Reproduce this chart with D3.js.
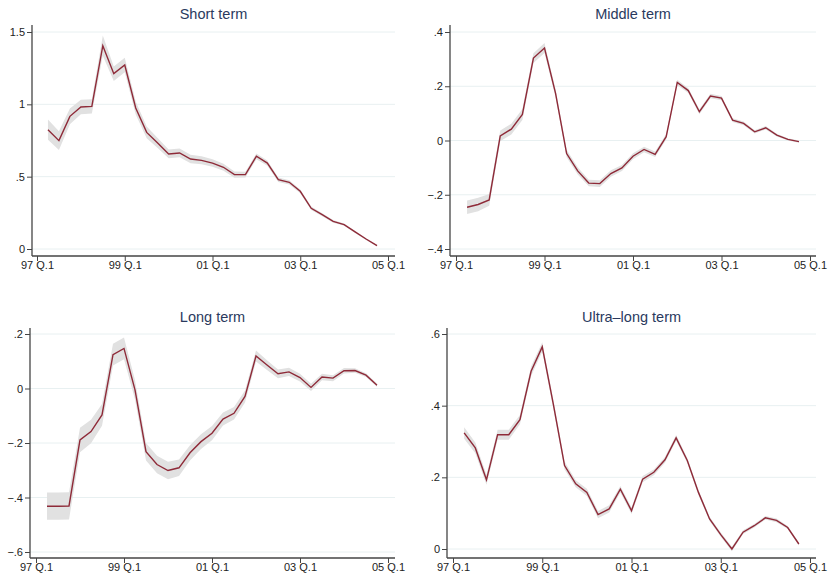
<!DOCTYPE html>
<html>
<head>
<meta charset="utf-8">
<script src="https://cdn.jsdelivr.net/npm/d3@7"></script>
<style>
  body { margin: 0; background: #fff; }
  svg { font-family: "Liberation Sans", Arial, sans-serif; }
  .tick text { fill: #222; font-size: 11px; }
  .title { fill: #2a3a5e; font-size: 14.5px; text-anchor: middle; }
</style>
</head>
<body>
<div id="chart"></div>
<script>
const width = 828
const height = 581

// Trimestres: 97 Q.2 a 04 Q.4 (indice 0 = 97 Q.1)
const quarters = d3.range(1, 32)
const xTicks = [0, 8, 16, 24, 32]
const xTickLabels = ["97 Q.1", "99 Q.1", "01 Q.1", "03 Q.1", "05 Q.1"]

const shortTerm = [0.825, 0.749, 0.917, 0.982, 0.986, 1.405, 1.212, 1.272, 0.975, 0.806,
  0.733, 0.657, 0.664, 0.622, 0.613, 0.594, 0.565, 0.514, 0.514, 0.641,
  0.594, 0.479, 0.461, 0.399, 0.281, 0.237, 0.191, 0.168, 0.118, 0.069, 0.023]
const shortBand = [0.07, 0.065, 0.055, 0.05, 0.05, 0.07, 0.05, 0.05, 0.045, 0.04,
  0.035, 0.03, 0.03, 0.03, 0.028, 0.026, 0.024, 0.022, 0.02, 0.02,
  0.018, 0.016, 0.015, 0.013, 0.012, 0.01, 0.009, 0.008, 0.007, 0.006, 0.005]

const middleTerm = [-0.246, -0.236, -0.219, 0.017, 0.042, 0.096, 0.304, 0.341, 0.174, -0.048,
  -0.112, -0.157, -0.159, -0.122, -0.101, -0.058, -0.033, -0.051, 0.014, 0.214,
  0.184, 0.106, 0.164, 0.156, 0.075, 0.063, 0.032, 0.047, 0.020, 0.004, -0.004]
const middleBand = [0.025, 0.025, 0.022, 0.02, 0.02, 0.02, 0.018, 0.018, 0.015, 0.014,
  0.013, 0.012, 0.012, 0.012, 0.011, 0.011, 0.01, 0.01, 0.01, 0.01,
  0.009, 0.009, 0.008, 0.008, 0.007, 0.007, 0.006, 0.006, 0.005, 0.004, 0.004]

const longTerm = [-0.432, -0.432, -0.431, -0.189, -0.158, -0.097, 0.124, 0.147, -0.005, -0.232,
  -0.279, -0.301, -0.291, -0.236, -0.195, -0.164, -0.112, -0.091, -0.029, 0.119,
  0.086, 0.054, 0.061, 0.040, 0.004, 0.042, 0.038, 0.065, 0.066, 0.049, 0.012]
const longBand = [0.05, 0.05, 0.05, 0.045, 0.043, 0.04, 0.04, 0.04, 0.035, 0.032,
  0.032, 0.032, 0.03, 0.028, 0.027, 0.026, 0.024, 0.023, 0.022, 0.02,
  0.018, 0.016, 0.015, 0.014, 0.013, 0.012, 0.011, 0.01, 0.008, 0.007, 0.006]

const ultraTerm = [0.324, 0.282, 0.193, 0.319, 0.319, 0.361, 0.496, 0.564, 0.403, 0.233,
  0.182, 0.158, 0.096, 0.112, 0.167, 0.107, 0.195, 0.214, 0.249, 0.310,
  0.247, 0.158, 0.084, 0.040, 0.000, 0.047, 0.065, 0.087, 0.080, 0.060, 0.014]
const ultraBand = [0.016, 0.015, 0.014, 0.014, 0.014, 0.013, 0.013, 0.013, 0.012, 0.011,
  0.01, 0.01, 0.01, 0.01, 0.009, 0.009, 0.009, 0.008, 0.008, 0.008,
  0.007, 0.007, 0.006, 0.006, 0.006, 0.005, 0.005, 0.005, 0.005, 0.004, 0.004]

const yTicksShort = [0, 0.5, 1, 1.5]
const yTicksMiddle = [-0.4, -0.2, 0, 0.2, 0.4]
const yTicksLong = [-0.6, -0.4, -0.2, 0, 0.2]
const yTicksUltra = [0, 0.2, 0.4, 0.6]

// Paneles: posicion en pixeles de cada grafico
const panels = [
  {title: "Short term", values: shortTerm, band: shortBand, ticks: yTicksShort,
   axisX: 32, top: 25, bottom: 256, right: 395, x0: 37, x1: 388, yBot: 249, yTop: 32, titleY: 19},
  {title: "Middle term", values: middleTerm, band: middleBand, ticks: yTicksMiddle,
   axisX: 450, top: 25, bottom: 256, right: 816, x0: 456, x1: 810, yBot: 249, yTop: 32, titleY: 19},
  {title: "Long term", values: longTerm, band: longBand, ticks: yTicksLong,
   axisX: 30, top: 328, bottom: 558, right: 395, x0: 36, x1: 388, yBot: 552, yTop: 334, titleY: 322},
  {title: "Ultra\u2013long term", values: ultraTerm, band: ultraBand, ticks: yTicksUltra,
   axisX: 447, top: 328, bottom: 558, right: 816, x0: 453, x1: 810, yBot: 549, yTop: 334, titleY: 322},
]

const fmt = v => {
  if (v === 0) return "0"
  let s = String(+v.toFixed(2))
  s = s.replace(/^(-?)0\./, "$1.")
  return s.replace("-", "\u2212")
}

const svg = d3.select("div#chart")
  .append("svg")
  .attr("width", width)
  .attr("height", height)

panels.forEach(p => {
  const g = svg.append("g")

  const x = d3.scaleLinear().domain([0, 32]).range([p.x0, p.x1])
  const y = d3.scaleLinear()
    .domain([p.ticks[0], p.ticks[p.ticks.length - 1]])
    .range([p.yBot, p.yTop])

  // grid
  g.append("g").selectAll("line").data(p.ticks)
    .join("line")
    .attr("x1", p.axisX)
    .attr("x2", p.right)
    .attr("y1", d => y(d))
    .attr("y2", d => y(d))
    .attr("stroke", "#e8f0f1")
    .attr("stroke-width", 1)

  const data = quarters.map((q, i) => ({q: q, v: p.values[i], b: p.band[i]}))

  // banda de confianza
  g.append("path")
    .datum(data)
    .attr("fill", "#e1e1e1")
    .attr("d", d3.area()
      .x(d => x(d.q))
      .y0(d => y(d.v - d.b))
      .y1(d => y(d.v + d.b)))

  g.append("path")
    .datum(data)
    .attr("fill", "none")
    .attr("stroke", "#8e2a38")
    .attr("stroke-width", 1.4)
    .attr("d", d3.line().x(d => x(d.q)).y(d => y(d.v)))

  // ejes
  const yAxis = d3.axisLeft(y).tickValues(p.ticks).tickFormat(fmt).tickSize(5).tickSizeOuter(0)
  const yAxisGroup = g.append("g")
    .attr("transform", `translate(${p.axisX}, 0)`)
    .call(yAxis)
  yAxisGroup.select(".domain").remove()
  yAxisGroup.selectAll(".tick line").attr("stroke", "#444")
  yAxisGroup.selectAll(".tick text").attr("x", -7)

  const xAxis = d3.axisBottom(x).tickValues(xTicks)
    .tickFormat((d, i) => xTickLabels[i]).tickSize(5).tickSizeOuter(0)
  const xAxisGroup = g.append("g")
    .attr("transform", `translate(0, ${p.bottom})`)
    .call(xAxis)
  xAxisGroup.select(".domain").remove()
  xAxisGroup.selectAll(".tick line").attr("stroke", "#444")
  xAxisGroup.selectAll(".tick text").attr("y", 5)

  g.append("line")
    .attr("x1", p.axisX).attr("x2", p.axisX)
    .attr("y1", p.top).attr("y2", p.bottom)
    .attr("stroke", "#444").attr("stroke-width", 1.3)
  g.append("line")
    .attr("x1", p.axisX).attr("x2", p.right)
    .attr("y1", p.bottom).attr("y2", p.bottom)
    .attr("stroke", "#444").attr("stroke-width", 1.3)

  g.append("text")
    .attr("class", "title")
    .attr("x", (p.axisX + p.right) / 2)
    .attr("y", p.titleY)
    .text(p.title)
})
</script>
</body>
</html>
